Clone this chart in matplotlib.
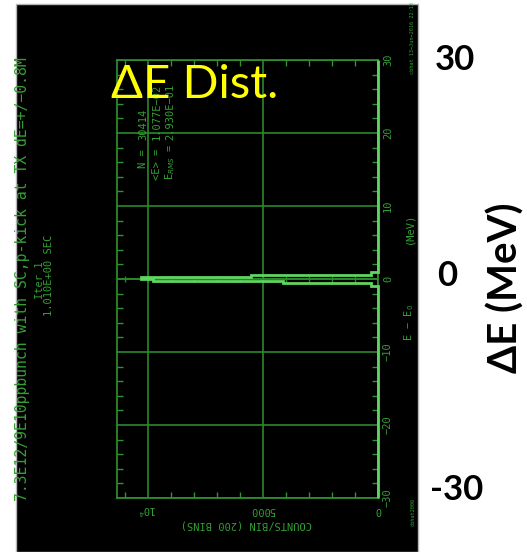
import numpy as np
import matplotlib
matplotlib.use("Agg")
import matplotlib.pyplot as plt
from matplotlib.patches import Rectangle
from matplotlib.ticker import MultipleLocator

# ---------------- data ----------------
bin_edges_mev = [-30.0, -0.9, -0.6, -0.3, 0.0, 0.3, 0.6, 0.9, 30.0]
counts_per_bin = [0, 320, 4150, 9800, 10300, 5520, 324, 0]
energy_ticks = [30, 20, 10, 0, -10, -20, -30]
count_tick_labels = {10000: "10$^4$", 5000: "5000", 0: "0"}
count_max = 11350
title_text = "7.3E12/9E10ppbunch with SC,p-kick at TX dE=+/\u22120.8M"
stats_labels = ["N =", "<E> =", "E$_{RMS}$ ="]
stats_values = ["30414", "1.077E\u221202", "2.930E\u221201"]
big_labels = ["30", "0", "-30"]

# ---------------- styling ----------------
W, H = 527, 552
DPI = 100
fig = plt.figure(figsize=(W / DPI, H / DPI), dpi=DPI)
fig.patch.set_facecolor("white")

def fx(x):
    return x / W

def fy(y):
    return 1 - y / H

GRID = "#2b8a2b"
FRAME = "#2f932f"
TXT = "#34a034"
HIST = "#5fd65f"
MONO = "DejaVu Sans Mono"

# black panel
fig.patches.append(Rectangle((fx(16), 0), fx(418) - fx(16), fy(4), transform=fig.transFigure,
                             facecolor="black", edgecolor="#b5b5b5", lw=1.0, zorder=-5))

ax = fig.add_axes([fx(117), fy(498), fx(378) - fx(117), fy(60) - fy(498)])
ax.set_zorder(1)
ax.set_facecolor("black")
ax.set_xlim(count_max, 0)
ax.set_ylim(-30, 30)
for s in ax.spines.values():
    s.set_color(FRAME)
    s.set_linewidth(1.2)

ax.set_xticks([0, 5000, 10000])
ax.set_yticks(energy_ticks)
ax.xaxis.set_minor_locator(MultipleLocator(1000))
ax.yaxis.set_minor_locator(MultipleLocator(2))
ax.tick_params(which="both", direction="in", top=True, right=True, bottom=True, left=True,
               labelbottom=False, labelleft=False, color=FRAME, width=1.0)
ax.tick_params(which="major", length=0)
ax.tick_params(which="minor", length=4)
ax.grid(True, which="major", color=GRID, lw=1.2)

# zero line with ticks
ax.axhline(0, color=GRID, lw=1.2, zorder=2)
zt = np.arange(1000, count_max, 1000)
ax.plot(zt, np.zeros_like(zt), ls="none", marker="|", ms=5, mew=1.0, color=GRID, zorder=2)

# histogram outline
ax.stairs(counts_per_bin, bin_edges_mev, orientation="horizontal", color=HIST, lw=2.0,
          baseline=0, clip_on=False, zorder=4)

# right tick labels (rotated)
for v in energy_ticks:
    ax.text(1.0 + 10 / (378 - 117), v, str(v).replace("-", "\u2212"),
            transform=ax.get_yaxis_transform(), rotation=90, ha="center", va="center",
            fontsize=7.5, color=TXT, family=MONO, clip_on=False)

# bottom tick labels (upside down)
for v, lab in count_tick_labels.items():
    ax.text(v, -30 - 12 * 60 / (498 - 60), lab, transform=ax.transData, rotation=180,
            ha="center", va="center", fontsize=7.5, color=TXT, family=MONO, clip_on=False)

fig.text(fx(246), fy(525), "COUNTS/BIN (200 BINS)", rotation=180, ha="center", va="center",
         fontsize=7.5, color=TXT, family=MONO)
fig.text(fx(409), fy(322), "E \u2212 E$_0$", rotation=90, ha="center", va="center",
         fontsize=7.5, color=TXT, family=MONO)
fig.text(fx(409), fy(228), "(MeV)", rotation=90, ha="center", va="center",
         fontsize=7.5, color=TXT, family=MONO)

# left title text
fig.text(fx(23), fy(279), title_text, rotation=90, ha="center", va="center",
         fontsize=10.6, color=TXT, family=MONO)
fig.text(fx(40), fy(280), "Iter 1", rotation=90, ha="center", va="center",
         fontsize=7.5, color=TXT, family=MONO)
fig.text(fx(49), fy(275), "1.010E+00 SEC", rotation=90, ha="center", va="center",
         fontsize=7.5, color=TXT, family=MONO)

# stats
for i, (lab, val) in enumerate(zip(stats_labels, stats_values)):
    x = 143 + 13.5 * i
    fig.text(fx(x), fy(143), lab + " ", rotation=90, rotation_mode="anchor", ha="right",
             va="center", fontsize=7.5, color=TXT, family=MONO, zorder=3)
    fig.text(fx(x), fy(140), val, rotation=90, rotation_mode="anchor", ha="left",
             va="center", fontsize=7.5, color=TXT, family=MONO, zorder=3)

# tiny stamps
fig.text(fx(413), fy(38), "cbhat 13\u2212Jun\u22122016 22:13", rotation=90, ha="center", va="center",
         fontsize=3.8, color=TXT, family=MONO)
fig.text(fx(413), fy(512), "cbhat2006", rotation=90, ha="center", va="center",
         fontsize=3.8, color=TXT, family=MONO)

# yellow annotation
fig.text(fx(111), fy(85), "\u0394E Dist.", ha="left", va="center", fontsize=34,
         color="#ffff00", family="Lato", zorder=10)

# right side black labels
fig.text(fx(455), fy(60), big_labels[0], ha="center", va="center", fontsize=25,
         fontweight="bold", color="black", family="Lato")
fig.text(fx(447), fy(276), big_labels[1], ha="center", va="center", fontsize=25,
         fontweight="bold", color="black", family="Lato")
fig.text(fx(457), fy(490), big_labels[2], ha="center", va="center", fontsize=25,
         fontweight="bold", color="black", family="Lato")
fig.text(fx(506), fy(288), "\u0394E (MeV)", rotation=90, ha="center", va="center", fontsize=29,
         fontweight="bold", color="black", family="Lato")

fig.savefig("out.png", dpi=DPI, facecolor="white")
